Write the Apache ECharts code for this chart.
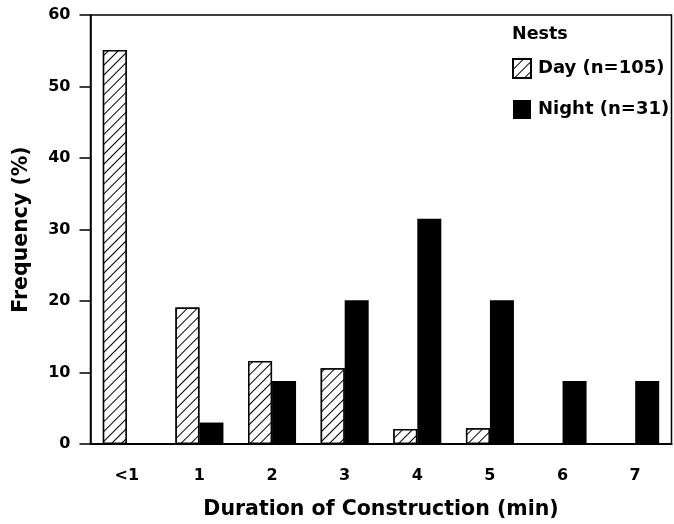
<!DOCTYPE html>
<html>
<head>
<meta charset="utf-8">
<style>
  html, body { margin: 0; padding: 0; background: #fff; }
  #chart { width: 674px; height: 524px; }
</style>
<script src="https://cdn.jsdelivr.net/npm/echarts@6/dist/echarts.min.js"></script>
</head>
<body>
<div id="chart"></div>
<script>
// categories (min) and frequencies (%)
var categories = ['<1', '1', '2', '3', '4', '5', '6', '7']
var dayValues = [55.1, 19.1, 11.6, 10.6, 2.1, 2.2, 0, 0]
var nightValues = [0, 3.0, 8.8, 20.1, 31.5, 20.1, 8.8, 8.8]
var yTicks = [0, 10, 20, 30, 40, 50, 60]

var font = '"DejaVu Sans", "Liberation Sans", Arial, sans-serif'
var chart = echarts.init(document.getElementById('chart'))

// diagonal hatching for the day bars
var hatch = {
    symbol: 'rect',
    symbolSize: 1,
    color: '#000',
    backgroundColor: '#fff',
    dashArrayX: [1, 0],
    dashArrayY: [1, 6],
    rotation: -Math.PI / 4,
}

var option = {
    animation: false,
    backgroundColor: '#fff',
    title: {
        text: 'Nests',
        left: 507,
        top: 20,
        textStyle: {
            fontFamily: font,
            fontWeight: 'bold',
            fontSize: 17.5,
            color: '#000',
        },
    },
    legend: {
        orient: 'vertical',
        left: 507,
        top: 53,
        itemWidth: 18,
        itemHeight: 19,
        itemGap: 21,
        icon: 'rect',
        textStyle: {
            fontFamily: font,
            fontWeight: 'bold',
            fontSize: 18,
            color: '#000',
            padding: [0, 0, 0, 2],
        },
        data: ['Day (n=105)', 'Night (n=31)'],
    },
    grid: {
        left: 90.5,
        right: 2.5,
        top: 15,
        bottom: 80,
        outerBoundsMode: 'none',
        show: true,
        borderColor: '#000',
        borderWidth: 1.5,
    },
    xAxis: {
        type: 'category',
        data: categories,
        name: 'Duration of Construction (min)',
        nameLocation: 'middle',
        nameGap: 55,
        nameTextStyle: {
            fontFamily: font,
            fontWeight: 'bold',
            fontSize: 20.5,
            color: '#000',
        },
        axisLine: { lineStyle: { color: '#000', width: 2 } },
        axisTick: { alignWithLabel: true, length: 8, lineStyle: { color: '#000', width: 1.5 } },
        axisLabel: {
            margin: 24,
            fontFamily: font,
            fontWeight: 'bold',
            fontSize: 16,
            color: '#000',
        },
    },
    yAxis: {
        type: 'value',
        min: yTicks[0],
        max: yTicks[yTicks.length - 1],
        interval: 10,
        name: 'Frequency (%)',
        nameLocation: 'middle',
        nameGap: 58,
        nameTextStyle: {
            fontFamily: font,
            fontWeight: 'bold',
            fontSize: 20.5,
            color: '#000',
        },
        splitLine: { show: false },
        axisLine: { show: true, lineStyle: { color: '#000', width: 1.5 } },
        axisTick: { show: true, length: 11, lineStyle: { color: '#000', width: 1.5 } },
        axisLabel: {
            margin: 20,
            fontFamily: font,
            fontWeight: 'bold',
            fontSize: 16,
            color: '#000',
        },
    },
    series: [
        {
            name: 'Day (n=105)',
            type: 'bar',
            data: dayValues,
            barWidth: 24,
            barGap: '0%',
            itemStyle: {
                color: '#fff',
                borderColor: '#000',
                borderWidth: 1.5,
                decal: hatch,
            },
        },
        {
            name: 'Night (n=31)',
            type: 'bar',
            data: nightValues,
            barWidth: 24,
            barGap: '0%',
            itemStyle: {
                color: '#000',
            },
        },
    ],
}
chart.setOption(option)
</script>
</body>
</html>
